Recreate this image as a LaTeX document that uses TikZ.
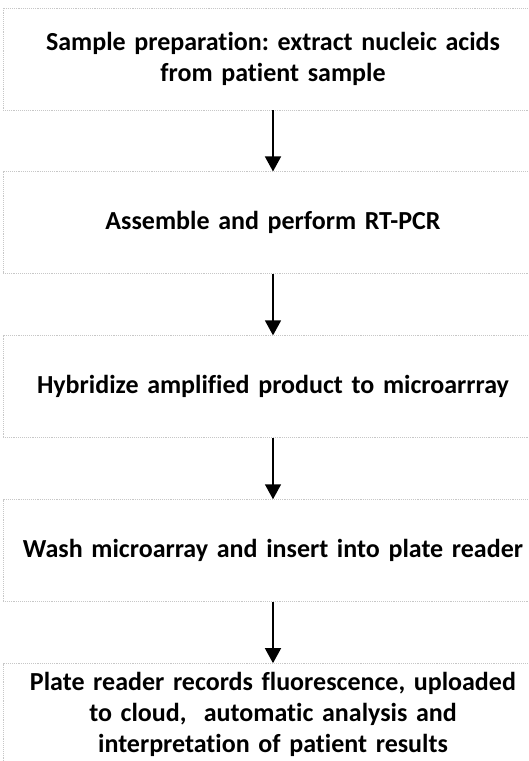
\documentclass[tikz,border=0pt]{standalone}
\usepackage{fontspec}
\setmainfont{Carlito}[Ligatures=NoCommon]
\usetikzlibrary{positioning,arrows.meta}
\begin{document}
\frenchspacing
\begin{tikzpicture}[
    stepbox/.style={draw=black!22, densely dotted, line width=0.9pt,
        minimum width=518pt, minimum height=102pt, text width=540pt,
        align=center, inner sep=0pt,
        font=\fontsize{26}{31}\selectfont\bfseries},
    flow/.style={line width=1.6pt, -{Triangle[width=16pt,length=15pt]}},
    node distance=61pt
]
    \useasboundingbox (0pt,0pt) rectangle (528pt,-761pt);
    \node[stepbox] (prep) at (273pt,-59pt) {Sample preparation: extract nucleic acids\\from patient sample};
    \node[stepbox, below=of prep] (pcr) {Assemble and perform RT-PCR};
    \node[stepbox, below=of pcr] (hyb) {Hybridize amplified product to microarrray};
    \node[stepbox, below=of hyb] (wash) {Wash microarray and insert into plate reader};
    \node[stepbox, below=of wash] (read) {Plate reader records fluorescence, uploaded\\to cloud,\ \ automatic analysis and\\interpretation of patient results};
    \foreach \a/\b in {prep/pcr, pcr/hyb, hyb/wash, wash/read} {
        \draw[flow] (\a) -- (\b);
    }
\end{tikzpicture}
\end{document}
